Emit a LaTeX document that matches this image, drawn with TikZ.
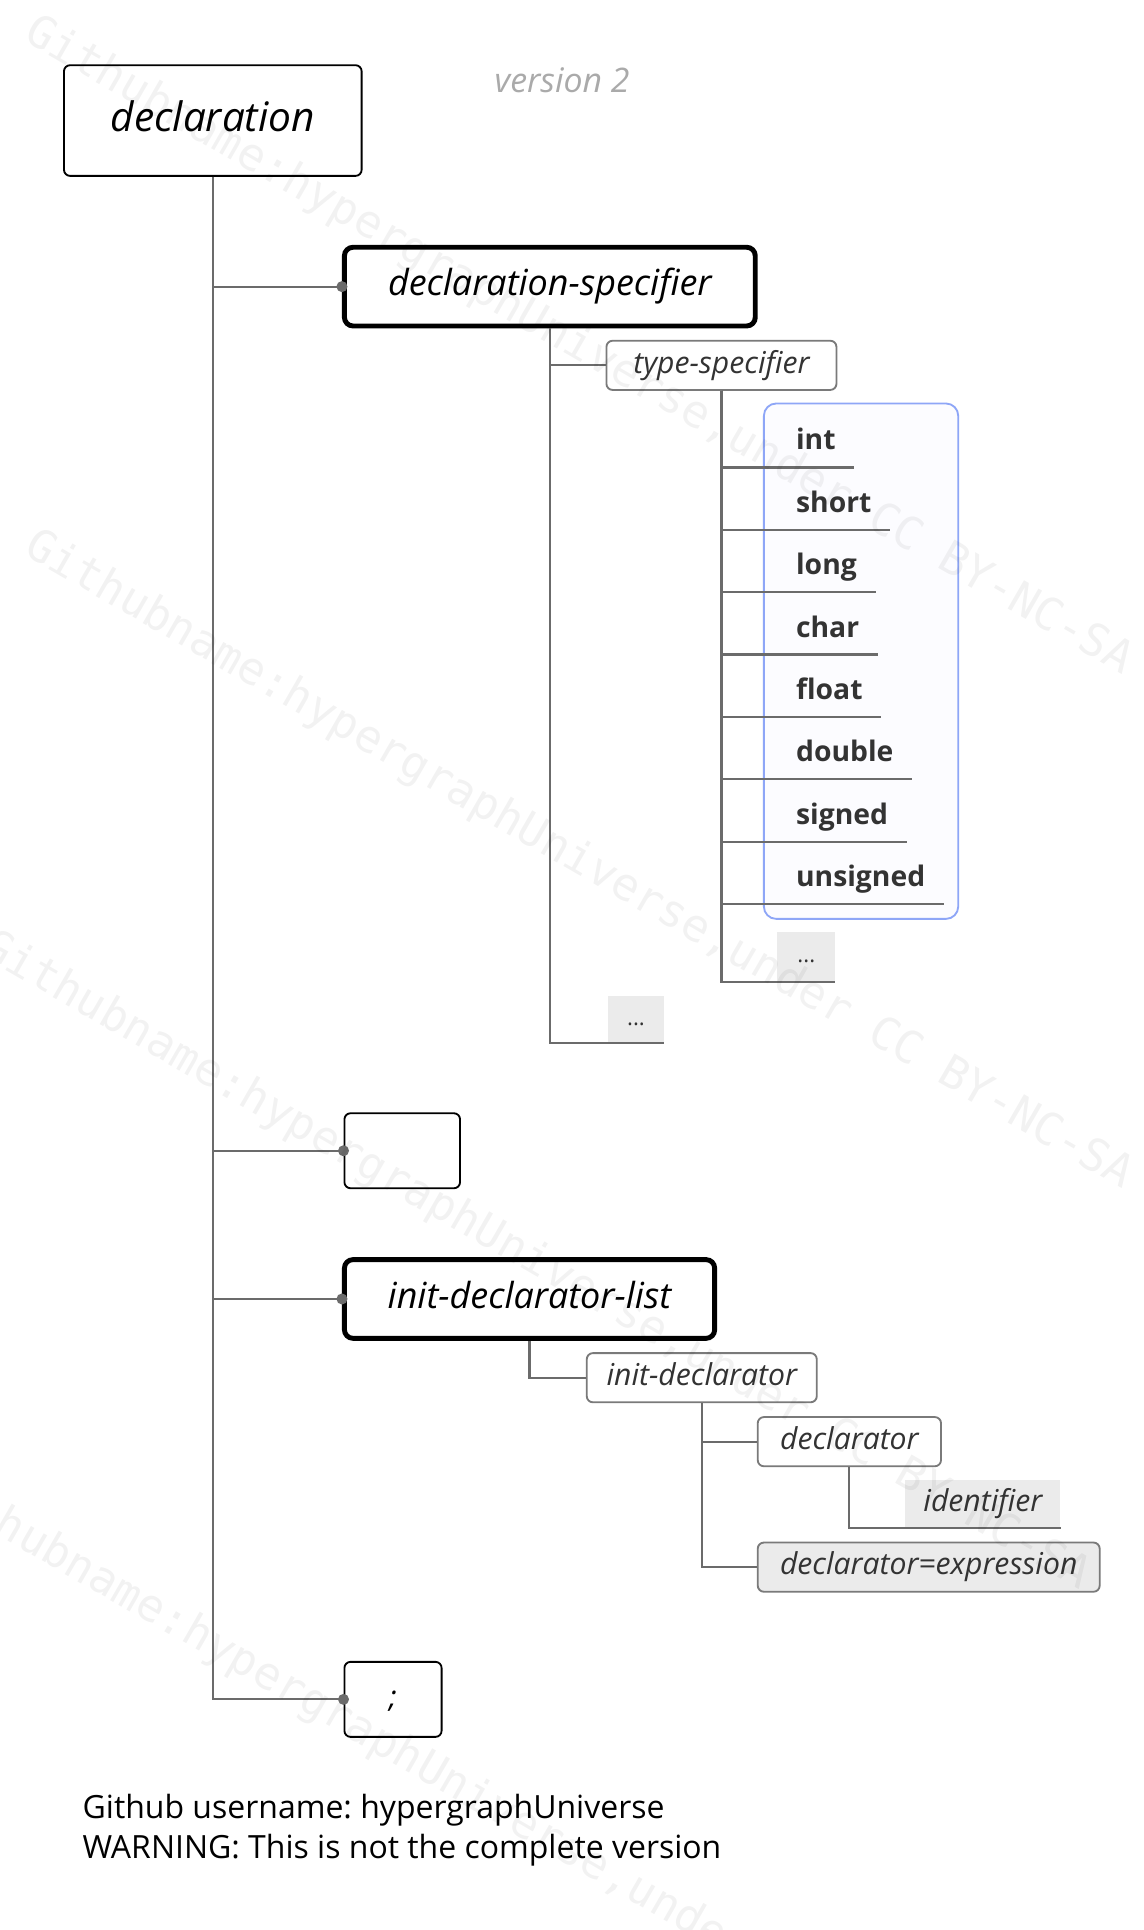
\documentclass[tikz,border=0pt]{standalone}
\usepackage{fontspec}
\setmainfont{Open Sans}
\newfontfamily\wmfamily{DejaVu Sans Mono}
\definecolor{linegray}{HTML}{6B6B6B}
\definecolor{boxgray}{HTML}{7A7A7A}
\definecolor{txtdark}{HTML}{333333}
\definecolor{fillgray}{HTML}{EBEBEB}
\definecolor{bluebd}{HTML}{8EA6F7}
\definecolor{bluefill}{HTML}{FCFCFF}
\definecolor{vergray}{HTML}{AAAAAA}
\newcommand\FontDecl{\fontsize{33}{39}\selectfont\itshape}
\newcommand\FontBig{\fontsize{29.2}{35}\selectfont\itshape}
\newcommand\FontSub{\fontsize{24.5}{29}\selectfont\itshape}
\newcommand\FontItem{\fontsize{23}{27}\selectfont\bfseries}
\newcommand\FontDots{\fontsize{18}{22}\selectfont}
\newcommand\FontVer{\fontsize{27.5}{32}\selectfont\itshape}
\newcommand\FontFoot{\fontsize{26}{33}\selectfont\frenchspacing}
\newcommand\FontWm{\fontsize{36.5}{42}\selectfont\wmfamily}
\begin{document}
\begin{tikzpicture}[x=1pt,y=-1pt,
  conn/.style={draw=linegray, line width=1.8},
  dotend/.style={fill=linegray},
  mainbox/.style={draw=black, line width=1.5, rounded corners=5, inner sep=0, fill=white},
  thickbox/.style={draw=black, line width=4, rounded corners=7, inner sep=0, fill=white,
    font=\FontBig, text height=21.0, text depth=5.8},
  subbox/.style={draw=boxgray, line width=1.5, rounded corners=5, inner sep=0, fill=white,
    text=txtdark, font=\FontSub, text height=17.6, text depth=4.9, minimum height=40},
  graybox/.style={fill=fillgray, inner sep=0, text=txtdark},
  itemnode/.style={anchor=south west, inner xsep=15, inner ysep=0, minimum height=40,
    text=txtdark, font=\FontItem, text height=16.5, text depth=4.6},
  wm/.style={anchor=north west, rotate=-30, inner sep=0, text=black, opacity=0.05, font=\FontWm}
]
\useasboundingbox (0,0) rectangle (930,1569);
\fill[white] (0,0) rectangle (930,1569);

% blue frame behind the keyword items
\draw[bluebd, fill=bluefill, line width=1.5, rounded corners=10] (621,328) rectangle (779,747);

% nodes
\node[text=vergray, font=\FontVer, inner sep=0] (ver) at (457,65) {version 2};
\node[mainbox, minimum width=242, minimum height=90, font=\FontDecl, text height=23.8, text depth=6.6] (decl) at (173,98) {declaration};
\node[thickbox, minimum width=334, minimum height=64] (ds) at (447,233) {declaration-specifier};
\node[subbox, minimum width=187] (ts) at (586.5,297) {type-specifier};
\node[graybox, minimum width=46, minimum height=38, font=\FontDots, text height=12.9, text depth=3.6] (dotsA) at (517,829) {...};
\node[graybox, minimum width=47, minimum height=40, font=\FontDots, text height=12.9, text depth=3.6] (dotsB) at (655.5,778) {...};
\foreach \t [count=\i from 0] in {int,short,long,char,float,double,signed,unsigned} {
  \node[itemnode] (it\i) at (632,{380+50.7*\i}) {\t};
}
\node[mainbox, minimum width=94, minimum height=61] (empty) at (327,935.5) {};
\node[thickbox, minimum width=301, minimum height=64] (idl) at (430.5,1056) {init-declarator-list};
\node[subbox, minimum width=187] (id) at (570.5,1120) {init-declarator};
\node[subbox, minimum width=149] (dr) at (690.5,1172) {declarator};
\node[graybox, minimum width=126, minimum height=39, font=\FontSub, text height=17.6, text depth=4.9] (ident) at (799,1222.5) {identifier};
\node[subbox, fill=fillgray, minimum width=278] (de) at (755,1274) {declarator=expression};
\node[mainbox, minimum width=79, minimum height=61, font=\FontSub, text height=17.6, text depth=4.9] (semi) at (319.5,1381.5) {;};

% connectors
\draw[conn] (decl.south) |- (ds.west);
\draw[conn] (decl.south) |- (empty.west);
\draw[conn] (decl.south) |- (idl.west);
\draw[conn] (decl.south) |- (semi.west);
\foreach \n in {ds,empty,idl,semi} { \fill[dotend] (\n.west) circle (4.5); }
\draw[conn] (ds.south) |- (ts.west);
\draw[conn] (ds.south) |- (dotsA.south east);
\foreach \i in {0,...,7} { \draw[conn] (ts.south) |- (it\i.south east); }
\draw[conn] (ts.south) |- (dotsB.south east);
\draw[conn] (idl.south) |- (id.west);
\draw[conn] (id.south) |- (dr.west);
\draw[conn] (id.south) |- (de.west);
\draw[conn] (dr.south) |- (ident.south east);

% footer
\node[anchor=base west, inner sep=0, font=\FontFoot] (footA) at (67,1478) {Github username: hypergraphUniverse};
\node[anchor=base west, inner sep=0, font=\FontFoot] (footB) at (67,1511) {WARNING: This is not the complete version};

% watermark
\node[wm] (wmA) at (32,8) {Githubname:hypergraphUniverse,under CC BY-NC-SA};
\node[wm] (wmB) at (32,426) {Githubname:hypergraphUniverse,under CC BY-NC-SA};
\node[wm] (wmC) at (-3,752) {Githubname:hypergraphUniverse,under CC BY-NC-SA};
\node[wm] (wmD) at (-50,1188) {Githubname:hypergraphUniverse,under CC BY-NC-SA};
\end{tikzpicture}
\end{document}
